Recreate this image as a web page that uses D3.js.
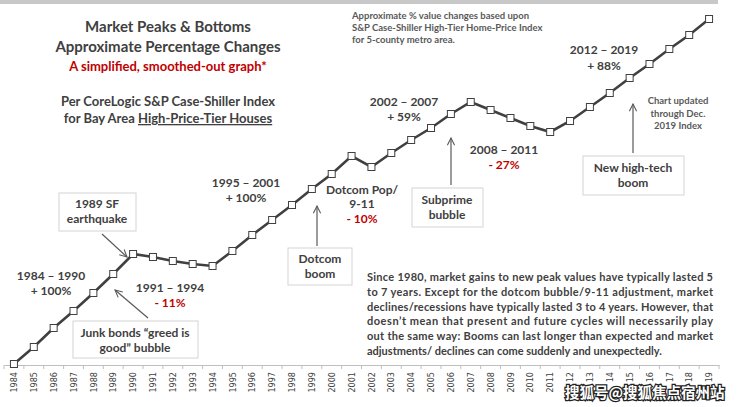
<!DOCTYPE html>
<html>
<head>
<meta charset="utf-8">
<script src="https://cdn.jsdelivr.net/npm/d3@7"></script>
<style>
  body { margin: 0; background: #fff; }
  text { font-family: Lato, "Open Sans", sans-serif; }
</style>
</head>
<body>
<svg width="740" height="407"></svg>
<script>
// smoothed index level per year (arbitrary units)
const years = [
  "1984", "1985", "1986", "1987", "1988", "1989", "1990", "1991", "1992",
  "1993", "1994", "1995", "1996", "1997", "1998", "1999", "2000", "2001",
  "2002", "2003", "2004", "2005", "2006", "2007", "2008", "2009", "2010",
  "2011", "2012", "2013", "2014", "2015", "2016", "2017", "2018", "2019"
]

const tickLabels = [
  "1984", "1985", "1986", "1987", "1988", "1989", "1990", "1991", "1992",
  "1993", "1994", "1995", "1996", "1997", "1998", "1999", "2000", "2001",
  "2002", "2003", "2004", "2005", "2006", "2007", "2008", "2009", "2010",
  "2011", "12", "13", "14", "15", "16", "17", "18", "19"
]

const index = [
  0, 17, 36, 53, 71, 90, 110, 107, 103,
  100, 98, 113, 129, 144, 159, 175, 190, 208,
  197, 211, 224, 236, 250, 262, 254, 246, 238,
  232, 243, 257, 271, 286, 300, 315, 329, 345
]

const paragraph = [
  "Since 1980, market gains  to new peak values have typically lasted 5",
  "to 7 years. Except for the dotcom bubble/9-11 adjustment, market",
  "declines/recessions have typically lasted 3 to 4 years. However, that",
  "doesn\u2019t mean that present and future cycles will necessarily play",
  "out the same way: Booms can last longer than expected and market",
  "adjustments/ declines can come suddenly and unexpectedly."
]

const dark = "#404040"
const red = "#c00000"
const grey = "#595959"

const svg = d3.select("svg")

svg.append("rect")
  .attr("x", 0).attr("y", 0)
  .attr("width", 718).attr("height", 4)
  .attr("fill", "#c8c8c8")

const x = d3.scaleBand()
  .domain(years)
  .range([4, 719])

const y = d3.scaleLinear()
  .domain([0, 345])
  .range([364, 19])

const cx = d => x(d) + x.bandwidth() / 2

// axis
const axis = svg.append("g")
  .attr("transform", "translate(0,365)")
  .call(d3.axisBottom(x).tickSize(0).tickFormat((d, i) => tickLabels[i]))

axis.select(".domain").attr("stroke", "#bfbfbf")
axis.selectAll("text")
  .attr("transform", "rotate(-90)")
  .attr("x", -7)
  .attr("y", 0)
  .attr("dy", "0.35em")
  .attr("text-anchor", "end")
  .attr("fill", dark)
  .style("font-size", "9px")
  .style("font-family", "'DejaVu Sans Condensed', Lato, sans-serif")

axis.selectAll(".edge")
  .data(years.concat(["end"]))
  .enter()
  .append("line")
  .attr("class", "edge")
  .attr("x1", (d, i) => x.range()[0] + i * x.step())
  .attr("x2", (d, i) => x.range()[0] + i * x.step())
  .attr("y1", 0)
  .attr("y2", 4)
  .attr("stroke", "#bfbfbf")

// line + markers
const line = d3.line()
  .x((d, i) => cx(years[i]))
  .y(d => y(d))

svg.append("path")
  .datum(index)
  .attr("d", line)
  .attr("fill", "none")
  .attr("stroke", dark)
  .attr("stroke-width", 2.6)

svg.selectAll(".pt")
  .data(index)
  .enter()
  .append("rect")
  .attr("class", "pt")
  .attr("x", (d, i) => cx(years[i]) - 3.5)
  .attr("y", d => y(d) - 3.5)
  .attr("width", 7)
  .attr("height", 7)
  .attr("fill", "#fff")
  .attr("stroke", dark)
  .attr("stroke-width", 1)

// arrow head
svg.append("defs").append("marker")
  .attr("id", "head")
  .attr("viewBox", "0 0 10 10")
  .attr("refX", 9).attr("refY", 5)
  .attr("markerWidth", 9).attr("markerHeight", 9)
  .attr("markerUnits", "userSpaceOnUse")
  .attr("orient", "auto")
  .append("path")
  .attr("d", "M1,1 L9,5 L1,9")
  .attr("fill", "none")
  .attr("stroke", "#595959")
  .attr("stroke-width", 1.2)

function arrow(x1, y1, x2, y2) {
  svg.append("line")
    .attr("x1", x1).attr("y1", y1)
    .attr("x2", x2).attr("y2", y2)
    .attr("stroke", "#595959")
    .attr("stroke-width", 1.2)
    .attr("marker-end", "url(#head)")
}

function box(x0, y0, w, h) {
  svg.append("rect")
    .attr("x", x0).attr("y", y0)
    .attr("width", w).attr("height", h)
    .attr("fill", "#fff")
    .attr("stroke", "#d4d4d4")
    .attr("stroke-width", 1)
}

function label(tx, ty, str, size, color, weight, anchor) {
  return svg.append("text")
    .attr("x", tx).attr("y", ty)
    .attr("text-anchor", anchor || "middle")
    .attr("fill", color)
    .style("font-size", size + "px")
    .style("font-weight", weight || 700)
    .text(str)
}

// titles
label(168, 32, "Market  Peaks & Bottoms", 15, dark)
label(168, 52, "Approximate  Percentage Changes", 15, dark)
label(168, 71, "A simplified, smoothed-out graph*", 13, red)
label(168, 106, "Per CoreLogic S&P Case-Shiller Index", 13, dark)
const sub = label(168, 123, "for Bay Area ", 13, dark)
sub.append("tspan").attr("text-decoration", "underline").text("High-Price-Tier Houses")

// note top right
label(352, 19, "Approximate % value changes  based upon", 9.5, grey, 700, "start")
label(352, 31, "S&P Case-Shiller High-Tier Home-Price Index", 9.5, grey, 700, "start")
label(352, 43, "for 5-county metro area.", 9.5, grey, 700, "start")

label(678, 104, "Chart updated", 9.5, grey)
label(678, 117, "through Dec.", 9.5, grey)
label(678, 129, "2019 Index", 9.5, grey)

// period labels
label(604, 54, "2012 \u2013 2019", 12, dark)
label(604, 70, "+ 88%", 12, dark)
label(404, 106, "2002 \u2013 2007", 12, dark)
label(404, 121, "+ 59%", 12, dark)
label(504, 154, "2008 \u2013 2011", 12, dark)
label(504, 169, "- 27%", 12, red)
label(246, 187, "1995 \u2013 2001", 12, dark)
label(246, 202, "+ 100%", 12, dark)
label(362, 194, "Dotcom Pop/", 12, dark)
label(362, 208, "9-11", 12, dark)
label(362, 223, "- 10%", 12, red)
label(51, 280, "1984 \u2013 1990", 12, dark)
label(51, 295, "+ 100%", 12, dark)
label(170, 292, "1991 \u2013 1994", 12, dark)
label(170, 307, "- 11%", 12, red)

// boxes with arrows
box(583, 156, 101, 39)
label(633, 172, "New high-tech", 12, dark)
label(633, 187, "boom", 12, dark)
arrow(633, 153, 633, 104)

box(412, 188, 71, 39)
label(447, 204, "Subprime", 12, dark)
label(447, 219, "bubble", 12, dark)
arrow(451, 185, 451, 138)

box(288, 248, 64, 37)
label(320, 263, "Dotcom", 12, dark)
label(320, 278, "boom", 12, dark)
arrow(317, 246, 317, 206)

box(59, 193, 77, 38)
label(97, 208, "1989 SF", 12, dark)
label(97, 223, "earthquake", 12, dark)
arrow(102, 234, 127, 257)

box(73, 321, 125, 37)
label(135, 337, "Junk bonds \u201cgreed is", 12, dark)
label(135, 352, "good\u201d bubble", 12, dark)
arrow(148, 318, 115, 290)

// paragraph, justified except last line
svg.selectAll(".para")
  .data(paragraph)
  .enter()
  .append("text")
  .attr("class", "para")
  .attr("x", 367)
  .attr("y", (d, i) => 281 + i * 14.8)
  .attr("fill", dark)
  .style("font-size", "11px")
  .style("font-weight", 700)
  .each(function (d, i) {
    if (i < paragraph.length - 1) {
      d3.select(this).attr("textLength", 346).attr("lengthAdjust", "spacing")
    }
  })
  .text(d => d)

// watermark
svg.append("text")
  .attr("x", 565)
  .attr("y", 398)
  .attr("fill", "#fff")
  .attr("stroke", "#222")
  .attr("stroke-width", 2.5)
  .attr("paint-order", "stroke")
  .style("font-family", "'Noto Sans CJK SC'")
  .style("font-size", "14.5px")
  .style("font-weight", 700)
  .text("搜狐号@搜狐焦点宿州站")
</script>
</body>
</html>
